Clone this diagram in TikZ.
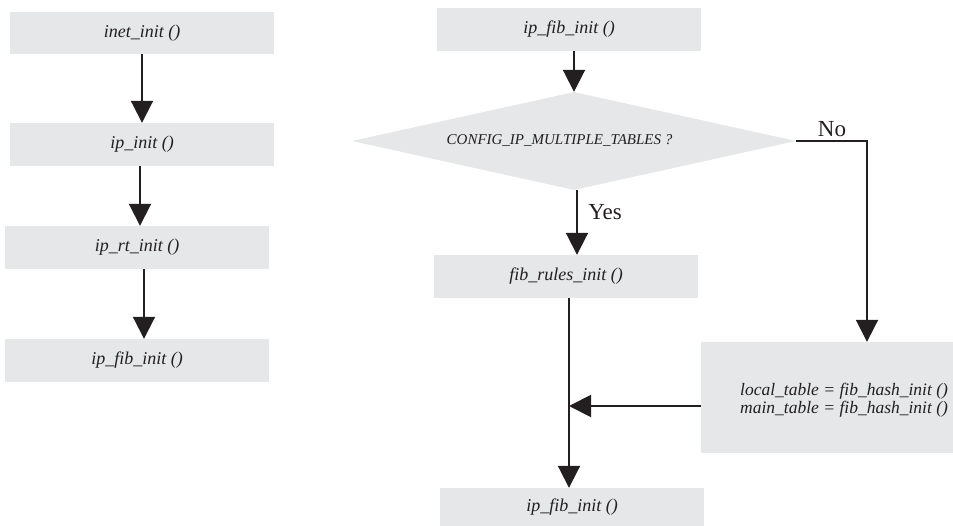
\documentclass[tikz,border=0pt]{standalone}
\usepackage{fontspec}
\setmainfont{Liberation Serif}
\usetikzlibrary{arrows.meta,shapes.geometric}
\definecolor{boxgray}{HTML}{E6E7E8}
\definecolor{ink}{HTML}{231F20}
\tikzset{
  fbox/.style={fill=boxgray, draw=none, minimum width=264pt, minimum height=43pt, inner sep=0pt,
    font=\fontsize{18}{18}\selectfont\itshape, text=ink},
  arr/.style={draw=ink, line width=2pt, -{Triangle[length=22pt,width=22pt]}},
  ln/.style={draw=ink, line width=2pt},
  yn/.style={font=\fontsize{23}{23}\selectfont, text=ink, inner sep=0pt}
}
\begin{document}
\begin{tikzpicture}[x=1pt,y=-1pt]
\useasboundingbox (0,0) rectangle (953,526);
% left column
\node[fbox, minimum height=42pt] (inet) at (142,33) {inet\_init ()};
\node[fbox] (ip) at (142,144.5) {ip\_init ()};
\node[fbox] (iprt) at (137,247.5) {ip\_rt\_init ()};
\node[fbox] (ipfibA) at (137,360.5) {ip\_fib\_init ()};
\draw[arr] (inet.south) -- (ip.north);
\draw[arr] ([xshift=-2pt]ip.south) -- ([xshift=3pt]iprt.north);
\draw[arr] ([xshift=7pt]iprt.south) -- ([xshift=7pt]ipfibA.north);
% right part
\node[fbox] (ipfibB) at (569,29.5) {ip\_fib\_init ()};
\node[diamond, aspect=4.53, fill=boxgray, draw=none, minimum width=444pt, minimum height=98pt, inner sep=0pt,
  font=\fontsize{15}{15}\selectfont\itshape, text=ink] (dia) at (574,141) {CONFIG\_IP\_MULTIPLE\_TABLES ?\hspace*{29pt}};
\draw[arr] (ipfibB.south -| dia.north) -- (dia.north);
\node[fbox] (rules) at (566,276.5) {fib\_rules\_init ()};
\draw[arr] ([xshift=3pt]dia.south) -- ([xshift=11pt]rules.north);
\node[yn] (yes) at (605,212) {Yes};
\node[fbox, minimum width=252pt, minimum height=111pt] (hash) at (827,397.5) {};
\node[anchor=west, align=left, inner sep=0pt, font=\fontsize{17.5}{18}\selectfont\itshape, text=ink] (hashtxt) at (740,400)
  {local\_table = fib\_hash\_init ()\\main\_table = fib\_hash\_init ()};
\draw[arr] (dia.east) -| ([xshift=40pt]hash.north);
\node[yn] (no) at (832,129) {No};
\node[fbox, minimum height=38pt] (ipfibC) at (572,507) {\raisebox{4pt}{ip\_fib\_init ()}};
\coordinate (m) at (569,406);
\draw[arr] ([xshift=3pt]rules.south) -- (ipfibC.north -| m);
\draw[arr] (hash.west |- m) -- (m);
\end{tikzpicture}
\end{document}
